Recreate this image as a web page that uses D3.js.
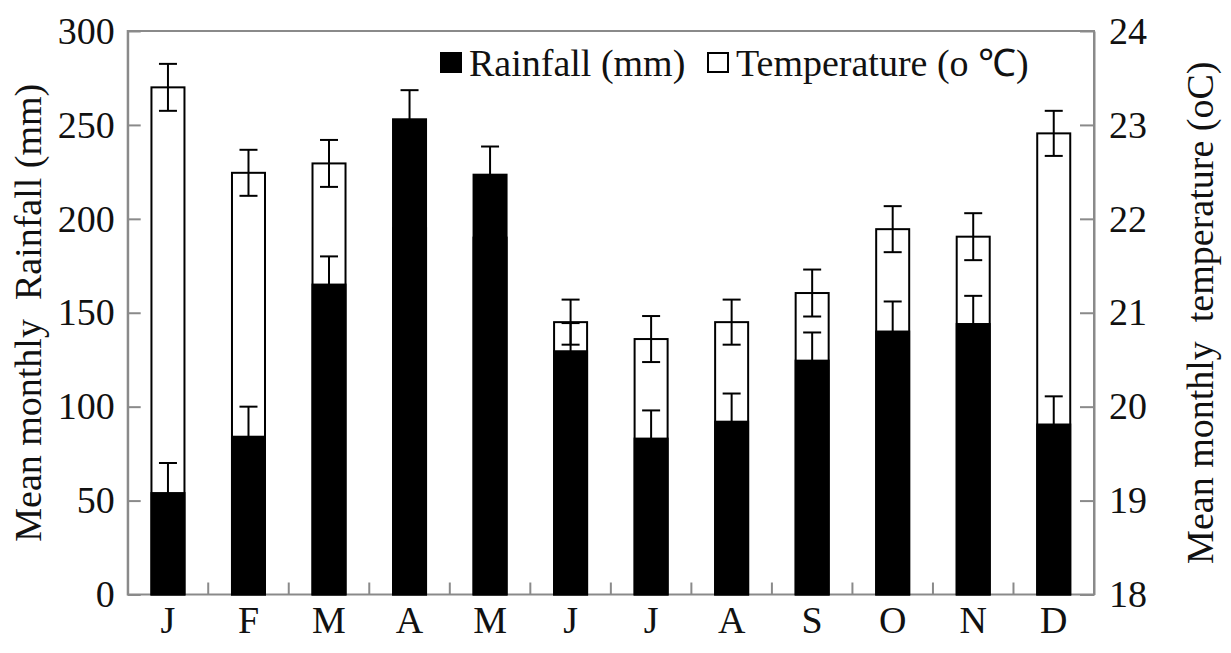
<!DOCTYPE html>
<html><head><meta charset="utf-8">
<script src="https://cdn.jsdelivr.net/npm/d3@7/dist/d3.min.js"></script>
<style>
html,body{margin:0;padding:0;background:#fff;}
svg text{font-family:"Liberation Serif","Times New Roman",serif !important;fill:#111;}
</style></head>
<body>
<svg id="c" width="1231" height="653"></svg>
<script>
const months = ["J","F","M","A","M","J","J","A","S","O","N","D"];
const rainfall = [54, 84, 165, 253, 223.5, 129.5, 83, 92, 124.5, 140, 144, 90.5];
const rainfallErr = [16, 16, 15, 15.5, 15, 15, 15, 15, 15, 16, 15, 15];
const temperature = [23.4, 22.49, 22.59, 21.9, 21.8, 20.9, 20.72, 20.9, 21.21, 21.89, 21.81, 22.91];
const temperatureErr = [0.25, 0.245, 0.25, 0.25, 0.25, 0.24, 0.245, 0.24, 0.25, 0.245, 0.25, 0.24];
const rainTicks = [0, 50, 100, 150, 200, 250, 300];
const tempTicks = [18, 19, 20, 21, 22, 23, 24];

const L = 127.7, R = 1094, T = 31, B = 594.5;
const svg = d3.select("#c");
const FS = 38;
const FONT = '"Liberation Serif","Times New Roman",serif';

const x = d3.scaleBand().domain(d3.range(months.length)).range([L, R])
  .paddingInner(0.59).paddingOuter(0.295);
const yR = d3.scaleLinear().domain([0, 300]).range([B, T]);
const yT = d3.scaleLinear().domain([18, 24]).range([B, T]);
const bw = x.bandwidth();
const step = x.step();
const gray = "#8a8a8a";

// frame
svg.append("rect").attr("x", L).attr("y", T).attr("width", R - L).attr("height", B - T)
  .attr("fill", "none").attr("stroke", gray).attr("stroke-width", 2);

// left axis
const ga = svg.append("g").attr("transform", `translate(${L},0)`)
  .call(d3.axisLeft(yR).tickValues(rainTicks).tickFormat(d3.format("d")).tickSize(-13).tickSizeOuter(0).tickPadding(13));
// right axis
const gb = svg.append("g").attr("transform", `translate(${R},0)`)
  .call(d3.axisRight(yT).tickValues(tempTicks).tickFormat(d3.format("d")).tickSize(-14).tickSizeOuter(0).tickPadding(15));
[ga, gb].forEach(g => {
  g.attr("font-family", FONT).attr("font-size", FS);
  g.select(".domain").attr("stroke", gray).attr("stroke-width", 2);
  g.selectAll(".tick line").attr("stroke", gray).attr("stroke-width", 2);
  g.selectAll(".tick text").style("font-size", FS + "px").style("font-family", FONT).attr("fill", "#111");
});

// x-axis boundary ticks
svg.append("g").selectAll("line").data(d3.range(1, months.length)).join("line")
  .attr("x1", i => x(i) - (step - bw) / 2).attr("x2", i => x(i) - (step - bw) / 2)
  .attr("y1", B).attr("y2", B - 12).attr("stroke", gray).attr("stroke-width", 2);

// x labels
svg.append("g").selectAll("text").data(months).join("text")
  .attr("x", (d, i) => x(i) + bw / 2).attr("y", 633).attr("text-anchor", "middle")
  .attr("font-size", FS).text(d => d);

// temperature bars (white)
svg.append("g").selectAll("rect").data(temperature).join("rect")
  .attr("x", (d, i) => x(i)).attr("width", bw)
  .attr("y", d => yT(d)).attr("height", d => B - yT(d))
  .attr("fill", "#fff").attr("stroke", "#000").attr("stroke-width", 2);

// rainfall bars (black)
svg.append("g").selectAll("rect").data(rainfall).join("rect")
  .attr("x", (d, i) => x(i)).attr("width", bw)
  .attr("y", d => yR(d)).attr("height", d => B - yR(d))
  .attr("fill", "#000").attr("stroke", "#000").attr("stroke-width", 2);

const cap = 9;
// temperature error bars
const te = svg.append("g").attr("stroke", "#000").attr("stroke-width", 2);
temperature.forEach((t, i) => {
  const cx = x(i) + bw / 2, e = temperatureErr[i];
  te.append("line").attr("x1", cx).attr("x2", cx).attr("y1", yT(t - e)).attr("y2", yT(t + e));
  te.append("line").attr("x1", cx - cap).attr("x2", cx + cap).attr("y1", yT(t + e)).attr("y2", yT(t + e));
  te.append("line").attr("x1", cx - cap).attr("x2", cx + cap).attr("y1", yT(t - e)).attr("y2", yT(t - e));
});
// rainfall error bars (upper)
const re = svg.append("g").attr("stroke", "#000").attr("stroke-width", 2);
rainfall.forEach((r, i) => {
  const cx = x(i) + bw / 2, e = rainfallErr[i];
  re.append("line").attr("x1", cx).attr("x2", cx).attr("y1", yR(r)).attr("y2", yR(r + e));
  re.append("line").attr("x1", cx - cap).attr("x2", cx + cap).attr("y1", yR(r + e)).attr("y2", yR(r + e));
});

// legend
svg.append("rect").attr("x", 440).attr("y", 52).attr("width", 22).attr("height", 21).attr("fill", "#000");
svg.append("text").attr("x", 469).attr("y", 76).attr("font-size", FS).text("Rainfall (mm)");
svg.append("rect").attr("x", 708).attr("y", 53).attr("width", 20).attr("height", 19)
  .attr("fill", "#fff").attr("stroke", "#000").attr("stroke-width", 2);
svg.append("text").attr("x", 736).attr("y", 76).attr("font-size", FS).text("Temperature (o ℃)");

// axis titles
svg.append("text").attr("transform", `translate(41,${(T + B) / 2}) rotate(-90)`)
  .attr("text-anchor", "middle").attr("font-size", FS).style("white-space", "pre")
  .text("Mean monthly  Rainfall (mm)");
svg.append("text").attr("transform", `translate(1213,${(T + B) / 2}) rotate(-90)`)
  .attr("text-anchor", "middle").attr("font-size", FS).style("white-space", "pre")
  .text("Mean monthly  temperature (oC)");
</script>
</body></html>
